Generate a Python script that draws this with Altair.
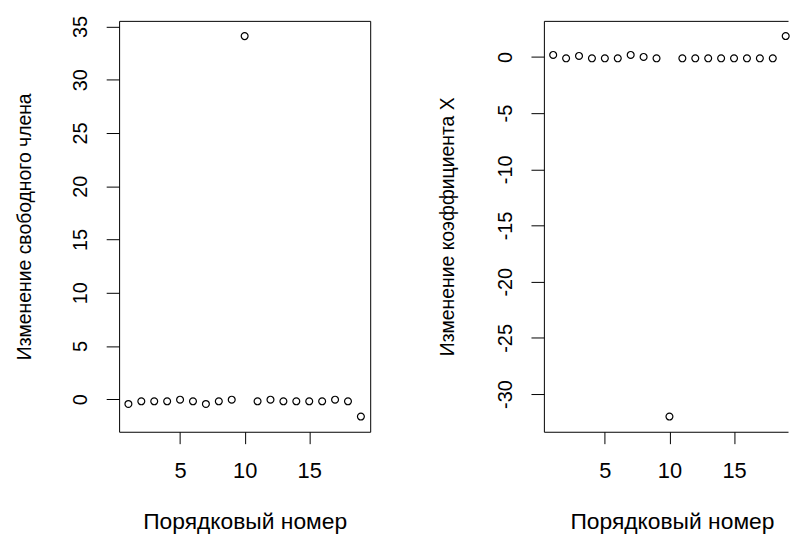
import altair as alt
import pandas as pd

# ---- data ----
order_no = list(range(1, 20))
intercept_change = [-0.45, -0.2, -0.2, -0.2, -0.05, -0.2, -0.45, -0.2, -0.05, 34.1,
                    -0.2, -0.05, -0.2, -0.2, -0.2, -0.2, -0.05, -0.2, -1.63]
slope_change = [0.18, -0.12, 0.09, -0.12, -0.12, -0.12, 0.18, 0.0, -0.12, -32.0,
                -0.12, -0.12, -0.12, -0.12, -0.12, -0.12, -0.12, -0.12, 1.86]

x_ticks = [5, 10, 15]
left_y_ticks = [0, 5, 10, 15, 20, 25, 30, 35]
right_y_ticks = [-30, -25, -20, -15, -10, -5, 0]

x_title = "Порядковый номер"
left_y_title = "Изменение свободного члена"
right_y_title = "Изменение коэффициента X"

FONT = "Liberation Sans"
H = 414
LBL = "'' + datum.value"   # plain hyphen-minus like R


def x_axis(xtitle_x, domain):
    return alt.Axis(values=x_ticks, title=x_title, grid=False, domain=domain,
                    domainColor="black", domainWidth=1,
                    tickSize=12, tickColor="black", tickWidth=1,
                    labelFont=FONT, labelFontSize=22, labelColor="black",
                    labelBaseline="alphabetic", labelPadding=34, labelExpr=LBL,
                    labelFlush=False, labelOverlap=False,
                    titleFont=FONT, titleFontSize=23, titleFontWeight="normal",
                    titleColor="black", titleBaseline="alphabetic",
                    titleAlign="center", titleX=xtitle_x, titleY=97)


def y_axis(ytitle, yticks, ytitle_x, domain):
    return alt.Axis(values=yticks, title=ytitle, grid=False, domain=domain,
                    domainColor="black", domainWidth=1,
                    tickSize=13, tickColor="black", tickWidth=1,
                    labelFont=FONT, labelFontSize=20, labelColor="black",
                    labelAngle=270, labelAlign="center", labelExpr=LBL,
                    labelBaseline="alphabetic", labelPadding=20,
                    labelFlush=False, labelOverlap=False,
                    titleFont=FONT, titleFontSize=19.5, titleFontWeight="normal",
                    titleColor="black", titleAngle=270,
                    titleBaseline="alphabetic", titleAlign="center",
                    titleX=ytitle_x, titleY=H / 2)


def points(df):
    return alt.Chart(df).mark_point(
        shape="circle", filled=False, size=48, strokeWidth=1.2,
        color="black", opacity=1
    )


# left panel: full box from the view frame
left_df = pd.DataFrame({"n": order_no, "v": intercept_change})
left = points(left_df).encode(
    x=alt.X("n:Q", scale=alt.Scale(domain=[0.28, 19.72], nice=False, zero=False),
            axis=x_axis(126.5, False)),
    y=alt.Y("v:Q", scale=alt.Scale(domain=[-3.06, 35.53], nice=False, zero=False),
            axis=y_axis(left_y_title, left_y_ticks, -89, False)),
).properties(width=253, height=H)

# right panel: cut by the page edge, so only left, top and bottom frame lines
right_df = pd.DataFrame({"n": order_no, "v": slope_change})
rx = alt.Scale(domain=[0.28, 19.18], nice=False, zero=False)
ry = alt.Scale(domain=[-33.35, 3.21], nice=False, zero=False)
right_main = points(right_df).encode(
    x=alt.X("n:Q", scale=rx, axis=x_axis(129, True)),
    y=alt.Y("v:Q", scale=ry, axis=y_axis(right_y_title, right_y_ticks, -91, True)),
)
right_top = alt.Chart(right_df).mark_point(opacity=0).encode(
    x=alt.X("n:Q", scale=rx,
            axis=alt.Axis(orient="top", labels=False, ticks=False, title=None,
                          grid=False, domain=True, domainColor="black", domainWidth=1)),
    y=alt.Y("v:Q", scale=ry),
)
right = alt.layer(right_main, right_top).resolve_axis(x="independent").properties(
    width=246, height=H, view=alt.ViewBackground(stroke=None)
)

chart = alt.hconcat(left, right, spacing=175, bounds="flush").properties(
    padding={"left": 14, "top": 13, "right": 0, "bottom": 0},
    background="white",
).configure_view(stroke="black", strokeWidth=1)

chart.save("out.html", embed_options={"renderer": "svg", "actions": False})
